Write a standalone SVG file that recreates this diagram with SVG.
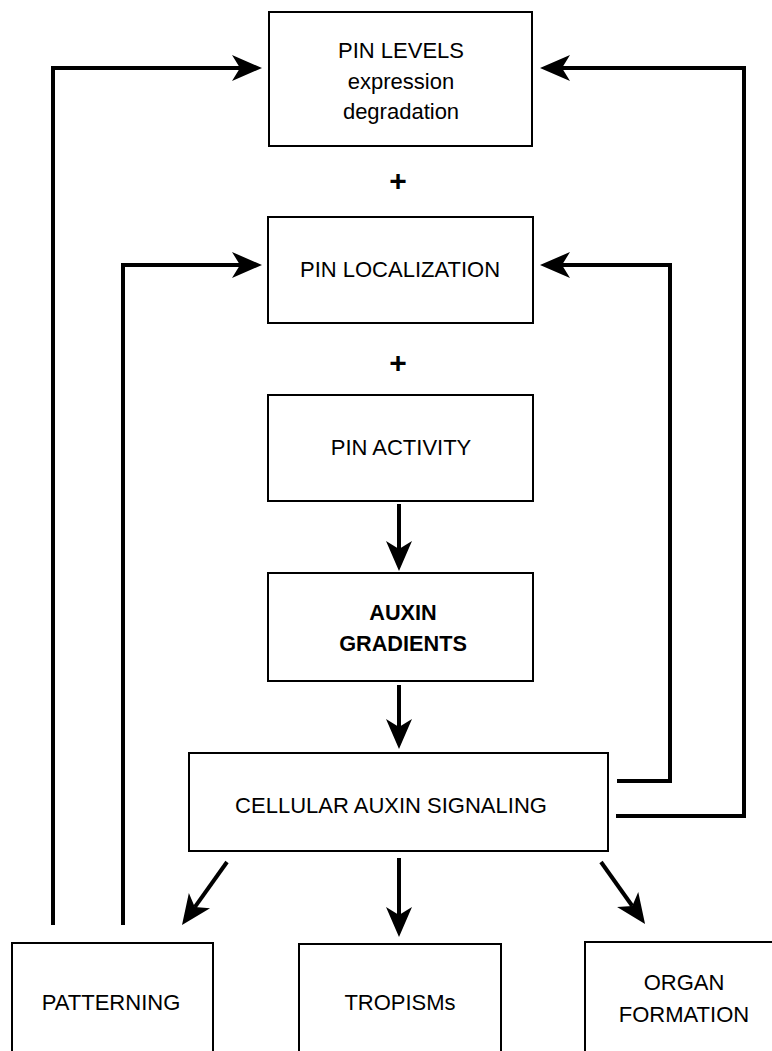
<svg xmlns="http://www.w3.org/2000/svg" width="772" height="1051" viewBox="0 0 772 1051">
<style>
.box{fill:#fff;stroke:#000;stroke-width:2}
.t{font-family:"Liberation Sans",Arial,sans-serif;font-size:22px;fill:#000;text-anchor:middle}
.b{font-weight:bold;font-size:21.7px}
.plus{font-family:"Liberation Sans",Arial,sans-serif;font-size:30px;font-weight:bold;text-anchor:middle}
.c{fill:none;stroke:#000;stroke-width:4;marker-end:url(#ah)}
</style>
<defs>
<marker id="ah" viewBox="-31 -15 33 30" markerWidth="33" markerHeight="30" refX="-22" refY="0" orient="auto" markerUnits="userSpaceOnUse">
<path d="M0,0 L-30,-13 L-22,0 L-30,13 Z" fill="#000"/>
</marker>
</defs>
<rect width="772" height="1051" fill="#fff"/>
<g id="connectors">
<path class="c" d="M53,925 V68 H240"/>
<path class="c" d="M123,925 V265 H240"/>
<path class="c" d="M616,816 H744 V68 H562"/>
<path class="c" d="M617,781 H670 V265 H562"/>
<path class="c" d="M399,504 V549"/>
<path class="c" d="M399,685 V727"/>
<path class="c" d="M227,862 L194.8,907.1"/>
<path class="c" d="M399,858 V915"/>
<path class="c" d="M601,862 L632.3,906"/>
</g>
<g id="pin-levels">
<rect class="box" x="269" y="12" width="263" height="134"/>
<text class="t" x="401" y="58">PIN LEVELS</text>
<text class="t" x="401" y="89">expression</text>
<text class="t" x="401" y="119">degradation</text>
</g>
<g id="plus1"><text class="plus" x="398" y="191">+</text></g>
<g id="pin-localization">
<rect class="box" x="268" y="217" width="265" height="106"/>
<text class="t" x="400" y="277">PIN LOCALIZATION</text>
</g>
<g id="plus2"><text class="plus" x="398" y="373">+</text></g>
<g id="pin-activity">
<rect class="box" x="268" y="395" width="265" height="106"/>
<text class="t" x="401" y="455">PIN ACTIVITY</text>
</g>
<g id="auxin-gradients">
<rect class="box" x="268" y="573" width="265" height="108"/>
<text class="t b" x="403" y="620">AUXIN</text>
<text class="t b" x="403" y="651">GRADIENTS</text>
</g>
<g id="cellular-auxin-signaling">
<rect class="box" x="189" y="753" width="419" height="98"/>
<text class="t" x="391" y="813">CELLULAR AUXIN SIGNALING</text>
</g>
<g id="patterning">
<rect class="box" x="12" y="943" width="201" height="120"/>
<text class="t" x="111" y="1010">PATTERNING</text>
</g>
<g id="tropisms">
<rect class="box" x="299" y="944" width="202" height="120"/>
<text class="t" x="400" y="1010">TROPISMs</text>
</g>
<g id="organ-formation">
<rect class="box" x="585" y="942" width="200" height="120"/>
<text class="t" x="684" y="990">ORGAN</text>
<text class="t" x="684" y="1022">FORMATION</text>
</g>
</svg>
